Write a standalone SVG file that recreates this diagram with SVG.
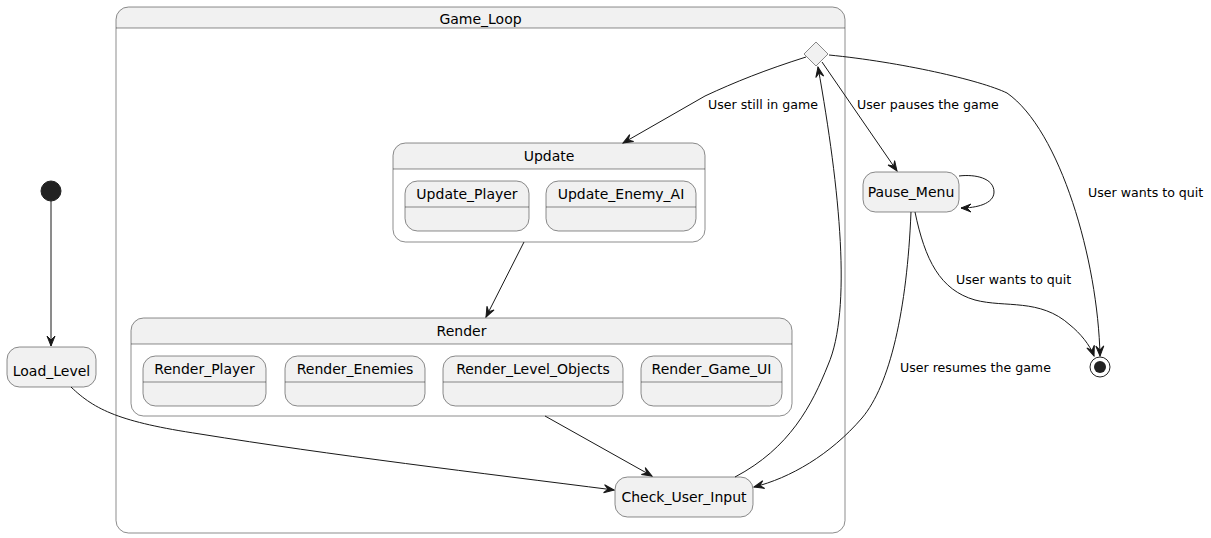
<svg xmlns="http://www.w3.org/2000/svg" width="1211" height="538" viewBox="0 0 1211 538">
<style>
.st{fill:#F1F1F1;stroke:#181818;stroke-width:0.5}
.ln{fill:none;stroke:#181818;stroke-width:0.5}
.t{font-family:"DejaVu Sans",sans-serif;font-size:14px;fill:#000;text-anchor:middle}
.lb{font-family:"DejaVu Sans",sans-serif;font-size:12.6px;fill:#000}
.e{fill:none;stroke:#181818;stroke-width:1}
</style>
<defs>
<marker id="ar" viewBox="-11 -5 12 10" refX="0" refY="0" markerWidth="12" markerHeight="10" markerUnits="userSpaceOnUse" orient="auto">
<path d="M0,0 L-10,-4 L-6,0 L-10,4 Z" fill="#181818" stroke="#181818" stroke-width="1"/>
</marker>
</defs>
<rect width="1211" height="538" fill="#FFFFFF"/>
<g id="Game_Loop">
<rect x="116" y="7" width="729" height="526" rx="12.5" fill="#FFFFFF"/>
<path d="M116,28 L116,19.5 A12.5,12.5 0 0 1 128.5,7 L832.5,7 A12.5,12.5 0 0 1 845,19.5 L845,28 Z" fill="#F1F1F1"/>
<line class="ln" x1="116" y1="28" x2="845" y2="28"/>
<rect class="ln" x="116" y="7" width="729" height="526" rx="12.5"/>
<text class="t" x="480.5" y="24">Game_Loop</text>
</g>
<g id="start">
<circle cx="51" cy="191" r="10" fill="#222222" stroke="#222222" stroke-width="1"/>
</g>
<g id="Load_Level">
<rect class="st" x="7" y="347" width="89" height="40" rx="12.5"/>
<text class="t" x="51.5" y="376">Load_Level</text>
</g>
<g id="Update">
<rect x="393" y="143" width="312" height="99" rx="12.5" fill="#FFFFFF"/>
<path d="M393,169 L393,155.5 A12.5,12.5 0 0 1 405.5,143 L692.5,143 A12.5,12.5 0 0 1 705,155.5 L705,169 Z" fill="#F1F1F1"/>
<line class="ln" x1="393" y1="169" x2="705" y2="169"/>
<rect class="ln" x="393" y="143" width="312" height="99" rx="12.5"/>
<text class="t" x="549" y="161">Update</text>
</g>
<g id="Update_Player">
<rect class="st" x="405" y="181" width="124" height="50" rx="12.5"/>
<line class="ln" x1="405" y1="207" x2="529" y2="207"/>
<text class="t" x="467" y="199">Update_Player</text>
</g>
<g id="Update_Enemy_AI">
<rect class="st" x="546" y="181" width="150" height="50" rx="12.5"/>
<line class="ln" x1="546" y1="207" x2="696" y2="207"/>
<text class="t" x="621" y="199">Update_Enemy_AI</text>
</g>
<g id="Render">
<rect x="131" y="318" width="661" height="98" rx="12.5" fill="#FFFFFF"/>
<path d="M131,344 L131,330.5 A12.5,12.5 0 0 1 143.5,318 L779.5,318 A12.5,12.5 0 0 1 792,330.5 L792,344 Z" fill="#F1F1F1"/>
<line class="ln" x1="131" y1="344" x2="792" y2="344"/>
<rect class="ln" x="131" y="318" width="661" height="98" rx="12.5"/>
<text class="t" x="461.5" y="336">Render</text>
</g>
<g id="Render_Player">
<rect class="st" x="143" y="356" width="123" height="50" rx="12.5"/>
<line class="ln" x1="143" y1="382" x2="266" y2="382"/>
<text class="t" x="204.5" y="374">Render_Player</text>
</g>
<g id="Render_Enemies">
<rect class="st" x="285" y="356" width="140" height="50" rx="12.5"/>
<line class="ln" x1="285" y1="382" x2="425" y2="382"/>
<text class="t" x="355" y="374">Render_Enemies</text>
</g>
<g id="Render_Level_Objects">
<rect class="st" x="443" y="356" width="180" height="50" rx="12.5"/>
<line class="ln" x1="443" y1="382" x2="623" y2="382"/>
<text class="t" x="533" y="374">Render_Level_Objects</text>
</g>
<g id="Render_Game_UI">
<rect class="st" x="641" y="356" width="141" height="50" rx="12.5"/>
<line class="ln" x1="641" y1="382" x2="782" y2="382"/>
<text class="t" x="711.5" y="374">Render_Game_UI</text>
</g>
<g id="Check_User_Input">
<rect class="st" x="615" y="477" width="138" height="40" rx="12.5"/>
<text class="t" x="684" y="502">Check_User_Input</text>
</g>
<g id="choice">
<polygon class="st" points="816,42 828,54 816,66 804,54"/>
</g>
<g id="Pause_Menu">
<rect class="st" x="863" y="172" width="96" height="40" rx="12.5"/>
<text class="t" x="911" y="197">Pause_Menu</text>
</g>
<g id="end">
<circle cx="1100" cy="367" r="10" fill="none" stroke="#222222" stroke-width="1"/>
<circle cx="1100" cy="367" r="6" fill="#222222"/>
</g>
<g id="connectors">
<path class="e" d="M51,201 L51,346" marker-end="url(#ar)"/>
<path class="e" d="M71,387 C95,410 120,422 200,434 C330,455 480,473 614,490" marker-end="url(#ar)"/>
<path class="e" d="M524,242 L486,317" marker-end="url(#ar)"/>
<path class="e" d="M545,416 L652,476" marker-end="url(#ar)"/>
<path class="e" d="M735,477 C790,448 812,405 828,365 C852,310 840,190 818,67" marker-end="url(#ar)"/>
<path class="e" d="M806,57 C765,70 735,82 705,96 L623,143" marker-end="url(#ar)"/>
<path class="e" d="M822,62 L897,171" marker-end="url(#ar)"/>
<path class="e" d="M829,55 C900,62 980,80 1007,93 C1060,130 1098,260 1100,356" marker-end="url(#ar)"/>
<path class="e" d="M959,176 C975,174 994,178 994,192 C994,204 976,208 961,208" marker-end="url(#ar)"/>
<path class="e" d="M915,212 C925,260 940,290 975,300 C1005,308 1040,298 1070,325 C1080,333 1090,345 1094,356" marker-end="url(#ar)"/>
<path class="e" d="M911,212 C907,310 890,385 862,418 C830,455 790,478 754,487" marker-end="url(#ar)"/>
<text class="lb" x="708" y="109">User still in game</text>
<text class="lb" x="857" y="109">User pauses the game</text>
<text class="lb" x="1088" y="197">User wants to quit</text>
<text class="lb" x="956" y="284">User wants to quit</text>
<text class="lb" x="900" y="372">User resumes the game</text>
</g>
</svg>
